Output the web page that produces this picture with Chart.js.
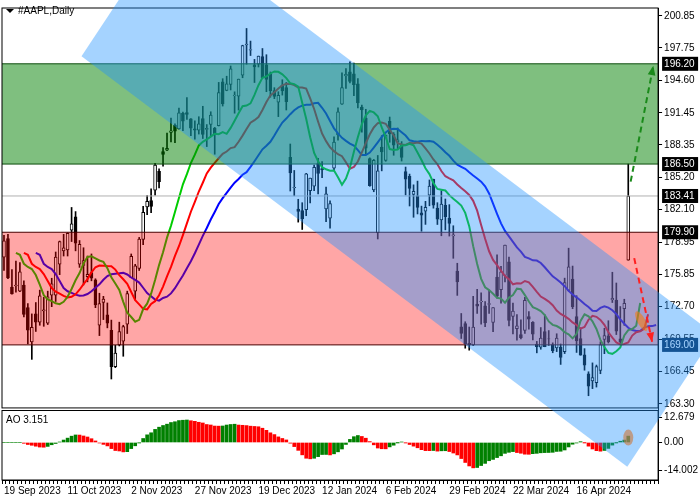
<!DOCTYPE html>
<html>
<head>
<meta charset="utf-8">
<script src="https://cdn.jsdelivr.net/npm/chart.js@4.4.1/dist/chart.umd.min.js"></script>
<style>
  body { margin: 0; background: #fff; }
  #wrap { width: 700px; height: 500px; }
</style>
</head>
<body>
<div id="wrap"><canvas id="myChart"></canvas></div>
<script>
// daily candles, 19 Sep 2023 .. 3 May 2024
const dates = ["19 Sep 2023","20 Sep 2023","21 Sep 2023","22 Sep 2023","25 Sep 2023","26 Sep 2023","27 Sep 2023","28 Sep 2023","29 Sep 2023",
"2 Oct 2023","3 Oct 2023","4 Oct 2023","5 Oct 2023","6 Oct 2023","9 Oct 2023","10 Oct 2023","11 Oct 2023","12 Oct 2023","13 Oct 2023","16 Oct 2023","17 Oct 2023","18 Oct 2023","19 Oct 2023","20 Oct 2023","23 Oct 2023","24 Oct 2023","25 Oct 2023","26 Oct 2023","27 Oct 2023","30 Oct 2023","31 Oct 2023",
"1 Nov 2023","2 Nov 2023","3 Nov 2023","6 Nov 2023","7 Nov 2023","8 Nov 2023","9 Nov 2023","10 Nov 2023","13 Nov 2023","14 Nov 2023","15 Nov 2023","16 Nov 2023","17 Nov 2023","20 Nov 2023","21 Nov 2023","22 Nov 2023","24 Nov 2023","27 Nov 2023","28 Nov 2023","29 Nov 2023","30 Nov 2023",
"1 Dec 2023","4 Dec 2023","5 Dec 2023","6 Dec 2023","7 Dec 2023","8 Dec 2023","11 Dec 2023","12 Dec 2023","13 Dec 2023","14 Dec 2023","15 Dec 2023","18 Dec 2023","19 Dec 2023","20 Dec 2023","21 Dec 2023","22 Dec 2023","26 Dec 2023","27 Dec 2023","28 Dec 2023","29 Dec 2023",
"2 Jan 2024","3 Jan 2024","4 Jan 2024","5 Jan 2024","8 Jan 2024","9 Jan 2024","10 Jan 2024","11 Jan 2024","12 Jan 2024","16 Jan 2024","17 Jan 2024","18 Jan 2024","19 Jan 2024","22 Jan 2024","23 Jan 2024","24 Jan 2024","25 Jan 2024","26 Jan 2024","29 Jan 2024","30 Jan 2024","31 Jan 2024",
"1 Feb 2024","2 Feb 2024","5 Feb 2024","6 Feb 2024","7 Feb 2024","8 Feb 2024","9 Feb 2024","12 Feb 2024","13 Feb 2024","14 Feb 2024","15 Feb 2024","16 Feb 2024","20 Feb 2024","21 Feb 2024","22 Feb 2024","23 Feb 2024","26 Feb 2024","27 Feb 2024","28 Feb 2024","29 Feb 2024",
"1 Mar 2024","4 Mar 2024","5 Mar 2024","6 Mar 2024","7 Mar 2024","8 Mar 2024","11 Mar 2024","12 Mar 2024","13 Mar 2024","14 Mar 2024","15 Mar 2024","18 Mar 2024","19 Mar 2024","20 Mar 2024","21 Mar 2024","22 Mar 2024","25 Mar 2024","26 Mar 2024","27 Mar 2024","28 Mar 2024",
"1 Apr 2024","2 Apr 2024","3 Apr 2024","4 Apr 2024","5 Apr 2024","8 Apr 2024","9 Apr 2024","10 Apr 2024","11 Apr 2024","12 Apr 2024","15 Apr 2024","16 Apr 2024","17 Apr 2024","18 Apr 2024","19 Apr 2024","22 Apr 2024","23 Apr 2024","24 Apr 2024","25 Apr 2024","26 Apr 2024","29 Apr 2024","30 Apr 2024",
"1 May 2024","2 May 2024","3 May 2024"];

const open = [177.5,179.3,174.6,174.7,174.2,174.8,172.6,169.3,172.0,
171.2,172.3,171.1,173.8,173.8,176.8,178.1,178.2,180.1,181.4,176.8,176.7,175.6,176.0,175.3,170.9,173.1,171.9,170.4,166.9,169.0,169.35,
171.0,175.5,174.2,176.4,179.2,182.35,182.96,183.97,185.8,187.7,187.85,189.57,190.25,189.89,191.41,191.49,190.87,189.92,189.78,190.9,189.84,
190.33,189.98,190.21,194.45,193.63,194.2,193.11,193.08,195.09,198.02,197.53,196.09,196.16,196.9,196.1,195.18,193.61,192.49,194.14,193.9,
187.15,184.22,182.15,181.99,182.09,183.92,184.35,186.54,186.06,182.16,181.27,186.09,189.33,192.3,195.02,195.42,195.22,194.27,192.01,190.94,187.04,
183.99,179.86,188.15,186.86,190.64,189.39,188.65,188.42,185.77,185.32,183.55,183.42,181.79,181.94,183.48,185.01,182.24,181.1,182.51,181.27,
179.55,176.15,170.76,171.06,169.15,169.0,172.94,173.15,172.77,172.91,171.17,175.57,174.34,175.72,177.05,171.76,170.57,170.0,170.41,171.75,
171.19,169.08,168.79,170.29,169.59,169.03,168.7,168.8,168.34,174.26,175.36,171.75,169.61,168.03,166.21,165.52,165.35,166.54,169.53,169.88,173.37,173.33,
169.58,172.51,177.2];
const high = [179.6,179.7,176.3,177.1,176.97,175.2,173.0,172.0,173.1,
174.3,173.6,174.2,175.45,177.99,179.05,179.7,179.85,182.3,181.9,179.1,178.4,177.6,177.8,175.4,174.0,173.7,173.06,171.4,168.96,171.2,170.9,
174.2,177.8,176.8,179.4,182.4,183.45,184.1,186.57,186.03,188.1,189.5,190.96,190.38,191.91,191.52,192.93,190.9,190.67,191.08,192.09,190.32,
191.56,190.05,194.4,194.76,195.0,195.99,193.49,194.72,198.0,199.62,198.4,196.63,196.95,197.68,197.08,195.41,193.89,193.5,194.66,194.4,
188.44,185.88,183.09,182.76,185.6,185.15,186.4,187.05,186.74,184.26,182.93,189.14,191.95,195.33,195.75,196.38,196.27,194.76,192.2,191.8,187.1,
186.95,187.33,189.25,189.31,191.05,189.54,189.99,188.67,186.21,185.53,184.49,184.85,182.43,182.89,184.96,185.04,182.76,183.92,183.12,182.57,
180.53,176.9,172.04,171.24,170.73,173.7,174.38,174.03,173.19,174.31,172.62,177.71,176.61,178.67,177.49,173.05,171.94,171.42,173.6,172.23,
171.25,169.34,170.68,171.92,170.39,169.2,170.08,169.09,175.46,178.36,176.63,173.76,170.65,168.64,166.4,167.26,167.05,169.3,170.61,171.34,176.03,174.99,
172.71,173.42,186.5];
const low = [176.2,175.4,173.9,174.1,174.15,171.7,169.1,167.6,170.3,
170.9,170.8,170.97,172.7,173.2,175.8,177.6,177.6,179.0,178.1,176.5,174.8,175.1,175.2,172.6,169.9,171.45,170.65,165.7,166.8,168.9,167.9,
170.1,175.5,173.35,176.2,178.7,181.6,181.8,183.5,184.2,186.3,187.8,188.65,188.57,189.88,189.74,190.83,189.25,188.9,189.4,188.97,188.19,
189.23,187.45,190.18,192.11,193.59,193.67,191.42,191.72,194.85,196.16,197.0,194.39,195.89,194.83,193.5,192.97,192.83,191.09,193.17,191.73,
183.89,183.43,180.88,180.17,181.5,182.73,183.92,183.62,185.19,180.93,180.3,185.83,188.82,192.26,193.83,194.34,193.11,191.94,189.58,187.47,184.35,
183.82,179.25,185.84,186.77,188.61,187.35,188.0,186.79,183.51,182.44,181.35,181.67,180.0,180.66,182.46,182.23,180.65,179.56,180.13,179.53,
177.38,173.79,169.62,168.68,168.49,168.94,172.05,171.01,170.76,172.05,170.29,173.52,173.03,175.09,170.84,170.06,169.45,169.58,170.11,170.51,
169.48,168.23,168.58,168.82,168.95,168.24,168.35,167.11,168.16,174.21,172.5,168.27,168.0,166.55,164.08,164.77,164.92,166.21,168.15,169.18,173.1,170.0,
169.11,170.89,177.2];
const close = [179.07,175.49,173.93,174.79,176.08,171.96,170.43,170.69,171.21,
173.75,172.40,173.66,174.91,177.49,178.99,178.39,179.80,180.71,178.85,178.72,177.15,175.84,175.46,172.88,173.00,173.44,171.10,166.89,168.22,170.29,170.77,
173.97,177.57,176.65,179.23,181.82,182.89,182.41,186.40,184.80,187.44,188.01,189.71,189.69,191.45,190.64,191.31,189.97,189.79,190.40,189.37,189.95,
191.24,189.43,193.42,192.32,194.27,195.71,193.18,194.71,197.96,198.11,197.57,195.89,196.94,194.83,194.68,193.60,193.05,193.15,193.58,192.53,
185.64,184.25,181.91,181.18,185.56,185.14,186.19,185.59,185.92,183.63,182.68,188.63,191.56,193.89,195.18,194.50,194.17,192.42,191.73,188.04,184.40,
186.86,185.85,187.68,189.30,189.41,188.32,188.85,187.15,185.04,184.15,183.86,182.31,181.56,182.32,184.37,182.52,181.16,182.63,181.42,180.75,
179.66,175.10,170.12,169.12,169.00,170.73,172.75,173.23,171.13,173.00,172.62,173.72,176.08,178.67,171.37,172.28,170.85,169.71,173.31,171.48,
170.03,168.84,169.65,168.82,169.58,168.45,169.67,167.78,175.04,176.55,172.69,169.38,168.00,167.04,165.00,165.84,166.90,169.02,169.89,169.30,173.50,170.33,
169.30,173.03,183.41];

const futureBars = 7;
const priceTicks = [200.85,197.75,194.60,191.45,188.35,185.20,182.10,178.95,175.85,172.70,169.55,166.45,163.30];
const aoTicks = [12.679, 0, -14.002];
const levels = [196.20, 186.50, 183.41, 179.90, 169.00];

const n = close.length;
const labels = dates.concat(new Array(futureBars).fill(''));
const median = high.map((h, i) => (h + low[i]) / 2);

// alligator: smoothed MA of median price, shifted right
function smma(len, shift) {
  const out = new Array(n + futureBars).fill(null);
  let v = null;
  for (let i = 0; i < n; i++) {
    if (i < len) {
      let s = 0;
      for (let j = 0; j <= i; j++) s += median[j];
      v = s / (i + 1);
    } else {
      v = (v * (len - 1) + median[i]) / len;
    }
    out[i + shift] = v;
  }
  return out;
}
const jaw = smma(13, 8);
const teeth = smma(8, 5);
const lips = smma(5, 3);

// awesome oscillator
function sma(len, i) {
  let s = 0, c = 0;
  for (let j = Math.max(0, i - len + 1); j <= i; j++) { s += median[j]; c++; }
  return s / c;
}
const ao = median.map((m, i) => sma(5, i) - sma(34, i));
const aoColors = ao.map((v, i) => (i > 0 && v < ao[i - 1]) ? '#ff0000' : '#008000');

const bodies = open.map((o, i) => [Math.min(o, close[i]), Math.max(o, close[i]) + (o === close[i] ? 0.05 : 0)]);
const wicks = low.map((l, i) => [l, high[i]]);
const bodyColors = open.map((o, i) => close[i] >= o ? '#ffffff' : '#000000');

const FONT = { family: 'Liberation Sans, Arial', size: 10 };

function px(chart, idx, v, axis) {
  return [chart.scales.x.getPixelForValue(idx), chart.scales[axis || 'y'].getPixelForValue(v)];
}

function arrow(ctx, a, b, color) {
  ctx.save();
  ctx.strokeStyle = color; ctx.fillStyle = color; ctx.lineWidth = 2;
  ctx.setLineDash([6, 4]);
  ctx.beginPath(); ctx.moveTo(a[0], a[1]); ctx.lineTo(b[0], b[1]); ctx.stroke();
  ctx.setLineDash([]);
  const ang = Math.atan2(b[1] - a[1], b[0] - a[0]);
  ctx.beginPath();
  ctx.moveTo(b[0], b[1]);
  ctx.lineTo(b[0] - 10 * Math.cos(ang - 0.4), b[1] - 10 * Math.sin(ang - 0.4));
  ctx.lineTo(b[0] - 10 * Math.cos(ang + 0.4), b[1] - 10 * Math.sin(ang + 0.4));
  ctx.closePath(); ctx.fill();
  ctx.restore();
}

const overlay = {
  id: 'overlay',
  afterDraw(chart) {
    const ctx = chart.ctx;
    const area = chart.chartArea;
    const y = chart.scales.y, yA = chart.scales.yAO;
    const L = area.left, R = area.right;
    ctx.save();

    // zones
    const g1 = y.getPixelForValue(196.20), g2 = y.getPixelForValue(186.50);
    ctx.fillStyle = 'rgba(0,128,0,0.5)';
    ctx.fillRect(L, g1, R - L, g2 - g1);
    const p1 = y.getPixelForValue(179.90), p2 = y.getPixelForValue(169.00);
    ctx.fillStyle = 'rgba(255,0,0,0.35)';
    ctx.fillRect(L, p1, R - L, p2 - p1);
    ctx.lineWidth = 1;
    ctx.strokeStyle = '#0b4d0b';
    [g1, g2].forEach(v => { ctx.beginPath(); ctx.moveTo(L, v); ctx.lineTo(R, v); ctx.stroke(); });
    ctx.strokeStyle = '#4a0000';
    [p1, p2].forEach(v => { ctx.beginPath(); ctx.moveTo(L, v); ctx.lineTo(R, v); ctx.stroke(); });
    ctx.strokeStyle = '#b0b0b0';
    const gl = y.getPixelForValue(183.41);
    ctx.beginPath(); ctx.moveTo(L, gl); ctx.lineTo(R, gl); ctx.stroke();

    // frames
    ctx.strokeStyle = '#000';
    ctx.strokeRect(L, y.top, R - L, y.bottom - y.top);
    const aoTop = yA.getPixelForValue(16.2);
    ctx.strokeRect(L, aoTop, R - L, yA.bottom - aoTop);
    ctx.fillStyle = '#fff';
    ctx.fillRect(L + 1, y.bottom + 1, R - L - 2, aoTop - y.bottom - 2);

    // level boxes on the price axis
    ctx.font = '10px Liberation Sans, Arial';
    ctx.textBaseline = 'middle';
    levels.forEach(v => {
      const yy = y.getPixelForValue(v);
      ctx.fillStyle = v === 169.00 ? '#0d2a4d' : '#000';
      ctx.fillRect(R + 4, yy - 7, 36, 14);
      ctx.fillStyle = '#fff';
      ctx.textAlign = 'left';
      ctx.fillText(v.toFixed(2), R + 6, yy);
    });

    // descending channel
    const c = [px(chart, 19.5, 196.93), px(chart, 41.5, 209.73), px(chart, 178.75, 170.0), px(chart, 156.75, 157.2)];
    ctx.fillStyle = 'rgba(30,144,255,0.4)';
    ctx.beginPath();
    ctx.moveTo(c[0][0], c[0][1]);
    c.slice(1).forEach(p => ctx.lineTo(p[0], p[1]));
    ctx.closePath(); ctx.fill();

    // markers
    const e1 = px(chart, 160.3, 171.3);
    ctx.fillStyle = 'rgba(255,120,0,0.55)';
    ctx.beginPath(); ctx.ellipse(e1[0], e1[1], 4, 11, -0.5, 0, Math.PI * 2); ctx.fill();
    const e2 = px(chart, 157, 3, 'yAO');
    ctx.fillStyle = 'rgba(205,120,60,0.6)';
    ctx.beginPath(); ctx.ellipse(e2[0], e2[1] + 1, 5, 8, 0, 0, Math.PI * 2); ctx.fill();

    arrow(ctx, px(chart, 157.6, 184.8), px(chart, 163.3, 196.0), '#1a8a1a');
    arrow(ctx, px(chart, 158.5, 177.4), px(chart, 163.0, 169.3), '#ff2020');

    // captions
    ctx.fillStyle = '#000';
    ctx.textAlign = 'left';
    ctx.beginPath(); ctx.moveTo(L + 4, 9); ctx.lineTo(L + 12, 9); ctx.lineTo(L + 8, 13); ctx.closePath(); ctx.fill();
    ctx.fillText('#AAPL,Daily', L + 16, 11);
    ctx.fillText('AO 3.151', L + 4, aoTop + 10);
    ctx.restore();
  }
};

const ctx = document.getElementById('myChart').getContext('2d');

new Chart(ctx, {
  type: 'bar',
  data: {
    labels,
    datasets: [
      { type: 'line', data: jaw, borderColor: '#0000ff', borderWidth: 2, pointRadius: 0, yAxisID: 'y', order: 3 },
      { type: 'line', data: teeth, borderColor: '#ff0000', borderWidth: 2, pointRadius: 0, yAxisID: 'y', order: 2 },
      { type: 'line', data: lips, borderColor: '#00cc00', borderWidth: 2, pointRadius: 0, yAxisID: 'y', order: 1 },
      { data: wicks, backgroundColor: '#000', barThickness: 1, grouped: false, yAxisID: 'y', order: 5 },
      { data: bodies, backgroundColor: bodyColors, borderColor: '#000', borderWidth: 1, borderSkipped: false, barThickness: 3, grouped: false, yAxisID: 'y', order: 4 },
      { data: ao, backgroundColor: aoColors, barThickness: 3, grouped: false, yAxisID: 'yAO', order: 6 }
    ]
  },
  options: {
    responsive: true,
    maintainAspectRatio: false,
    animation: false,
    layout: { padding: { top: 3, left: 2, right: 0, bottom: 2 } },
    plugins: { legend: { display: false }, tooltip: { enabled: false } },
    scales: {
      x: {
        grid: { drawOnChartArea: false, tickLength: 4, color: '#000' },
        border: { color: '#000' },
        ticks: {
          autoSkip: false, maxRotation: 0, align: 'start', color: '#000', font: FONT, padding: 1,
          callback: (v, i) => (i % 16 === 0 && i < n) ? labels[i] : ''
        }
      },
      y: {
        position: 'right', stack: 'panes', stackWeight: 5.55,
        min: 162.9, max: 201.6,
        grid: { drawOnChartArea: false, tickLength: 4, color: '#000' },
        border: { color: '#000' },
        afterBuildTicks: s => { s.ticks = priceTicks.map(v => ({ value: v })); },
        ticks: { color: '#000', font: FONT, padding: 2, callback: v => v.toFixed(2) }
      },
      yAO: {
        position: 'right', stack: 'panes', stackWeight: 1,
        min: -19, max: 17.5,
        grid: { drawOnChartArea: false, tickLength: 4, color: '#000' },
        border: { color: '#000' },
        afterBuildTicks: s => { s.ticks = aoTicks.map(v => ({ value: v })); },
        ticks: { color: '#000', font: FONT, padding: 2, callback: v => v === 0 ? '0.00' : v.toFixed(3) }
      }
    }
  },
  plugins: [overlay]
});
</script>
</body>
</html>
